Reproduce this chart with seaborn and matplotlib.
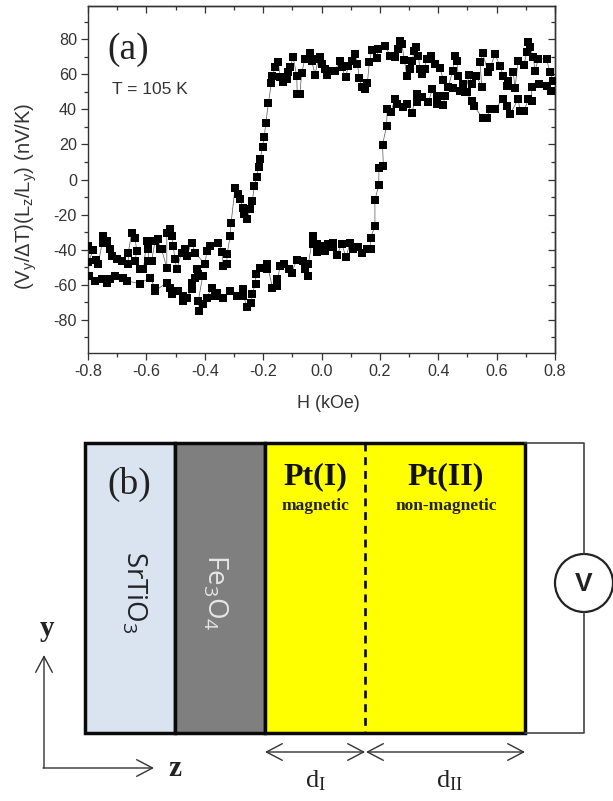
"""Hysteresis loop (a) on top, layer sketch of the Pt film (b) below."""
import matplotlib
matplotlib.use("Agg")
import matplotlib.pyplot as plt
from matplotlib.patches import Circle, Rectangle
from matplotlib.ticker import MultipleLocator
import pandas as pd
import seaborn as sns

# sweep from -H to +H
H_UP = [-.795, -.776, -.753, -.736, -.725, -.707, -.679, -.667, -.622, -.588, -.570, -.570, -.530, -.519, -.513, -.490,
        -.473, -.473, -.462, -.445, -.445, -.433, -.422, -.428, -.407, -.422, -.418, -.405, -.393, -.376, -.365, -.359,
        -.336, -.313, -.291, -.270, -.268, -.254, -.243, -.239, -.226, -.226, -.211, -.188, -.186, -.168, -.154, -.154,
        -.142, -.128, -.110, -.102, -.085, -.062, -.057, -.045, -.045, -.030, -.028, -.014, -.014, 0.0, .012, .023,
        .040, .040, .054, .069, .084, .098, .109, .126, .140, .155, .168, .168, .183, .183, .196, .197, .212, .209,
        .223, .225, .237, .252, .258, .280, .294, .309, .326, .326, .343, .366, .380, .395, .395, .417, .423, .452,
        .474, .497, .514, .522, .552, .566, .577, .594, .621, .634, .646, .674, .680, .694, .709, .720, .720, .746,
        .771, .788]
V_UP = [-55.0, -57.9, -56.9, -58.8, -56.9, -55.0, -56.0, -57.9, -59.4, -56.0, -61.7, -63.6, -58.8, -61.7, -65.1, -63.6,
        -66.5, -69.3, -67.4, -62.7, -58.8, -56.0, -54.1, -51.2, -55.0, -69.3, -75.0, -71.2, -67.4, -61.7, -66.5, -64.6,
        -67.4, -63.6, -66.5, -62.7, -66.5, -72.8, -70.3, -65.5, -59.8, -54.1, -50.7, -51.2, -48.4, -61.7, -56.9, -60.8,
        -49.3, -48.4, -51.2, -53.1, -45.9, -46.5, -51.2, -55.0, -48.4, -32.2, -36.6, -36.9, -41.1, -37.9, -40.7, -36.9,
        -36.0, -38.8, -43.0, -36.6, -44.2, -36.0, -39.8, -38.8, -41.7, -39.8, -39.8, -33.1, -26.8, -11.8, -3.2, 6.8, 7.8, 19.8,
        30.5, 40.2, 38.3, 45.9, 43.0, 41.1, 43.0, 37.7, 48.8, 44.0, 46.9, 44.0, 51.6, 43.0, 47.8, 42.7, 47.8, 52.2,
        50.7, 49.7, 45.0, 42.1, 35.0, 35.0, 40.2, 40.2, 45.9, 42.1, 37.3, 45.9, 39.2, 39.2, 45.9, 44.6, 52.6, 54.5,
        53.5, 50.7]

# sweep back from +H to -H, listed here by rising H
H_DOWN = [-.799, -.782, -.799, -.773, -.765, -.747, -.747, -.736, -.725, -.719, -.702, -.685, -.662, -.662, -.650, -.639,
          -.633, -.639, -.622, -.610, -.599, -.593, -.593, -.582, -.570, -.559, -.553, -.548, -.530, -.530, -.519, -.513,
          -.508, -.502, -.496, -.479, -.468, -.462, -.445, -.433, -.399, -.393, -.382, -.353, -.342, -.336, -.325, -.323,
          -.313, -.310, -.296, -.285, -.279, -.270, -.266, -.254, -.245, -.237, -.230, -.222, -.215, -.210, -.202, -.196,
          -.191, -.182, -.172, -.168, -.159, -.148, -.142, -.131, -.119, -.114, -.108, -.097, -.085, -.083, -.074, -.068,
          -.057, -.040, -.034, -.022, -.011, -.005, .001, .012, .018, .035, .046, .063, .069, .083, .092, .103,
          .115, .123, .130, .138, .149, .157, .164, .172, .189, .195, .218, .235, .252, .263, .269, .275,
          .284, .292, .303, .311, .317, .324, .332, .337, .346, .354, .360, .374, .389, .406, .417, .434,
          .449, .457, .463, .469, .486, .492, .506, .514, .531, .549, .543, .552, .571, .579, .594, .611,
          .623, .634, .640, .657, .663, .674, .694, .703, .709, .714, .726, .731, .743, .771, .783, .794]
V_DOWN = [-37.9, -40.4, -47.0, -46.1, -48.4, -32.2, -36.0, -35.0, -39.8, -43.6, -45.5, -46.5, -48.4, -41.7, -30.3, -33.1,
          -40.8, -46.5, -51.2, -51.2, -35.0, -39.8, -46.5, -46.5, -35.0, -34.1, -39.8, -39.8, -50.3, -30.3, -28.4, -32.2,
          -37.9, -45.5, -51.2, -41.7, -39.8, -43.6, -36.0, -41.7, -48.4, -40.8, -37.9, -36.0, -41.1, -49.3, -48.4, -42.3,
          -32.2, -25.1, -4.6, -8.4, -11.2, -16.0, -19.8, -22.6, -16.9, -12.2, -3.6, 1.5, 7.4, 11.6, 18.8, 24.4,
          32.0, 43.6, 54.9, 59.2, 64.0, 66.9, 58.3, 55.4, 57.3, 61.1, 64.0, 69.7, 59.2, 48.8, 48.8, 60.6,
          68.8, 72.2, 67.8, 59.8, 68.8, 69.7, 65.9, 63.0, 59.8, 62.1, 62.1, 67.8, 64.0, 58.3, 65.0, 67.8,
          71.6, 65.9, 57.7, 52.6, 51.6, 54.9, 66.9, 73.9, 69.3, 74.5, 76.4, 70.7, 69.7, 74.5, 79.2, 77.3,
          68.2, 59.2, 63.0, 67.8, 73.5, 75.8, 70.7, 63.0, 60.2, 63.0, 68.8, 70.7, 65.9, 63.6, 56.9, 52.6,
          61.7, 70.7, 67.8, 59.2, 54.5, 49.7, 59.8, 54.5, 59.2, 52.6, 66.9, 72.0, 61.1, 64.0, 71.6, 65.0,
          59.2, 53.5, 56.4, 61.1, 52.2, 67.8, 65.5, 72.6, 78.7, 75.8, 69.7, 62.1, 68.8, 68.8, 61.1, 56.4]

Y_TICKS = [-80, -60, -40, -20, 0, 20, 40, 60, 80]
X_TICKS = [-0.8, -0.6, -0.4, -0.2, 0.0, 0.2, 0.4, 0.6, 0.8]

LAYER_EDGES = [85, 175, 265, 525]
LAYER_COLORS = ["#DAE4F1", "#7F7F7F", "#FFFF00"]
INK = "#333333"
W, H = 613, 801

sns.set_theme(style="white")
plt.rcParams["font.family"] = ["Liberation Sans", "DejaVu Sans"]
plt.rcParams["axes.unicode_minus"] = False
plt.rcParams["mathtext.default"] = "regular"
SERIF = ["Liberation Serif", "DejaVu Serif"]

fig = plt.figure(figsize=(W / 100, H / 100), dpi=100)

# ---- panel b and all the loose labels live on a full-figure pixel axes ----
sk = fig.add_axes([0, 0, 1, 1])
sk.set_xlim(0, W)
sk.set_ylim(H, 0)
sk.axis("off")

for i, col in enumerate(LAYER_COLORS):
    sk.add_patch(Rectangle((LAYER_EDGES[i], 443), LAYER_EDGES[i + 1] - LAYER_EDGES[i], 290,
                           facecolor=col, edgecolor="#0A0A0A", lw=2.5))
sk.plot([365, 365], [443, 733], color="#0A0A0A", lw=1.9, ls=(0, (3.0, 2.2)))
sk.plot([525, 584, 584], [443, 443, 554], color="#444444", lw=1.2)
sk.plot([525, 584, 584], [733, 733, 612], color="#444444", lw=1.2)
sk.add_patch(Circle((584, 583), 29, facecolor="white", edgecolor="#222222", lw=1.6))
sk.text(584, 584, "V", fontsize=19, fontweight="bold", color="#222222", ha="center", va="center")

arrow = dict(arrowstyle="->,head_length=0.95,head_width=0.5", color="#333333", lw=1.0, shrinkA=0, shrinkB=0)
two_way = dict(arrow, arrowstyle="<->,head_length=0.95,head_width=0.5")
sk.annotate("", xy=(44, 655), xytext=(44, 768), arrowprops=arrow)
sk.annotate("", xy=(154, 768), xytext=(43, 768), arrowprops=arrow)
sk.annotate("", xy=(265, 752), xytext=(365, 752), arrowprops=two_way)
sk.annotate("", xy=(525, 752), xytext=(366, 752), arrowprops=two_way)

sk.text(47, 628, "y", family=SERIF, fontsize=21, fontweight="bold", color="#222222", ha="center", va="center")
sk.text(175, 769, "z", family=SERIF, fontsize=21, fontweight="bold", color="#222222", ha="center", va="center")
sk.text(315, 781, "d$_{I}$", family=SERIF, fontsize=19, color="#222222", ha="center", va="center")
sk.text(449, 781, "d$_{II}$", family=SERIF, fontsize=19, color="#222222", ha="center", va="center")
sk.text(129, 484, "(b)", family=SERIF, fontsize=27, color="#222222", ha="center", va="center")
sk.text(128, 50, "(a)", family=SERIF, fontsize=27, color="#222222", ha="center", va="center")
sk.text(315, 477, "Pt(I)", family=SERIF, fontsize=23, fontweight="bold", color="#111111", ha="center", va="center")
sk.text(446, 477, "Pt(II)", family=SERIF, fontsize=23, fontweight="bold", color="#111111", ha="center", va="center")
sk.text(315, 506, "magnetic", family=SERIF, fontsize=12.5, fontweight="bold", color="#222222", ha="center", va="center")
sk.text(446, 506, "non-magnetic", family=SERIF, fontsize=12.5, fontweight="bold", color="#222222", ha="center", va="center")
sk.text(134, 592, "SrTiO$_3$", family="Open Sans", fontsize=20, color="#222222", rotation=270, ha="center", va="center")
sk.text(215, 592, "Fe$_3$O$_4$", family="Open Sans", fontsize=20, color="#E6E6E6", rotation=270, ha="center", va="center")
sk.text(112, 90, "T = 105 K", fontsize=12.5, color=INK, ha="left", va="center")
sk.text(328, 403, "H (kOe)", fontsize=12.9, color=INK, ha="center", va="center")
sk.text(26, 196, "(V$_y$/\u0394T)(L$_z$/L$_y$) (nV/K)", fontsize=14.6, color=INK, rotation=90, ha="center", va="center")

# ---- panel a ---------------------------------------------------------------
ax = fig.add_axes([88 / W, 1 - 353 / H, 467 / W, 347 / H])
ax.patch.set_alpha(0)
up = pd.DataFrame({"H": H_UP, "V": V_UP})
down = pd.DataFrame({"H": H_DOWN, "V": V_DOWN})
for sweep in [up, down]:
    sns.lineplot(data=sweep, x="H", y="V", sort=False, estimator=None, color="#555555", lw=0.5, ax=ax)
    sns.scatterplot(data=sweep, x="H", y="V", marker="s", s=33, color="black", linewidth=0, ax=ax, zorder=3)

ax.set_xlim(-0.8, 0.8)
ax.set_ylim(-99, 99)
ax.set_xticks(X_TICKS)
ax.set_xticklabels([f"{v:.1f}" for v in X_TICKS])
ax.set_yticks(Y_TICKS)
ax.xaxis.set_minor_locator(MultipleLocator(0.1))
ax.yaxis.set_minor_locator(MultipleLocator(10))
ax.tick_params(which="major", direction="out", length=5, width=0.9, color=INK, labelcolor=INK, labelsize=11.6, pad=3,
               left=True, bottom=True)
ax.tick_params(which="minor", direction="out", length=3, width=0.9, color=INK, left=True, bottom=True)
ax.set_xlabel("")
ax.set_ylabel("")

# top and right ticks point inward, with no labels
top = ax.secondary_xaxis("top")
top.set_xticks(X_TICKS)
top.xaxis.set_minor_locator(MultipleLocator(0.1))
top.tick_params(which="major", direction="in", length=5, width=0.9, color=INK, labeltop=False)
top.tick_params(which="minor", direction="in", length=3, width=0.9, color=INK)
right = ax.secondary_yaxis("right")
right.set_yticks(Y_TICKS)
right.yaxis.set_minor_locator(MultipleLocator(10))
right.tick_params(which="major", direction="in", length=5, width=0.9, color=INK, labelright=False)
right.tick_params(which="minor", direction="in", length=3, width=0.9, color=INK)

for a in [ax, top, right]:
    for spine in a.spines.values():
        spine.set_color(INK)
        spine.set_linewidth(1.0)

fig.savefig("out.png", dpi=100)
